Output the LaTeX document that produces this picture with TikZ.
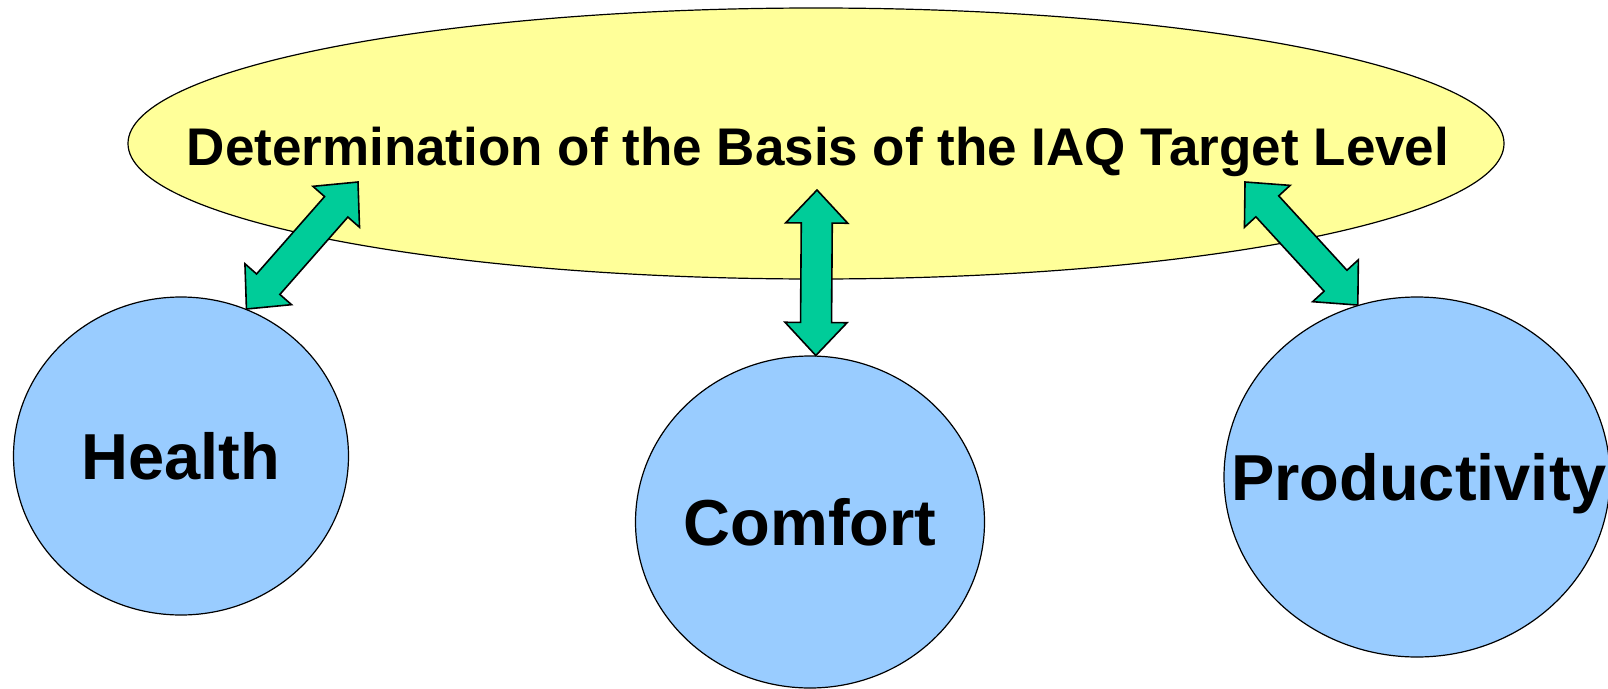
\documentclass[tikz,border=0pt]{standalone}
\usepackage{fontspec}
\setmainfont{Liberation Sans}
\usetikzlibrary{shapes, calc}

\definecolor{basisyellow}{HTML}{FFFF99}
\definecolor{factorblue}{HTML}{99CCFF}
\definecolor{linkgreen}{HTML}{00CC99}
\tikzset{
  factor/.style={draw,ellipse,fill=factorblue,line width=1.2pt,inner sep=0pt},
  bigtext/.style={font=\bfseries\fontsize{65}{78}\selectfont,text height=46.5pt,text depth=0pt,inner sep=0pt},
  link/.style={draw,fill=linkgreen,line width=1.6pt,line join=miter}
}
% double headed block arrow between two points
\newcommand{\blockarrow}[2]{%
  \path[link] (#1) -- ($(#1)!33pt!(#2)!31pt!90:(#2)$) -- ($(#1)!33pt!(#2)!15.5pt!90:(#2)$)
    -- ($(#2)!33pt!(#1)!15.5pt!-90:(#1)$) -- ($(#2)!33pt!(#1)!31pt!-90:(#1)$) -- (#2)
    -- ($(#2)!33pt!(#1)!31pt!90:(#1)$) -- ($(#2)!33pt!(#1)!15.5pt!90:(#1)$)
    -- ($(#1)!33pt!(#2)!15.5pt!-90:(#2)$) -- ($(#1)!33pt!(#2)!31pt!-90:(#2)$) -- cycle;}

\begin{document}
\begin{tikzpicture}[x=1pt,y=-1pt]
\useasboundingbox (0,0) rectangle (1608,688);
\node (basis) [draw,ellipse,fill=basisyellow,line width=1.2pt,minimum width=1376pt,minimum height=271pt] at (816,143.5) {};
\node (basistext) [font=\bfseries\fontsize{53}{64}\selectfont,text height=38pt,text depth=0pt,inner sep=0pt] at (818,146.5)
    {Determination of the Basis of the IAQ Target Level};
\node (health) [factor,minimum width=335pt,minimum height=318pt] at (181,456) {};
\node (comfort) [factor,minimum width=349pt,minimum height=332pt] at (810,522) {};
\node (prod) [factor,minimum width=386pt,minimum height=360pt] at (1417,477) {};
\node (healthtext) [bigtext] at (health) {Health};
\node (comforttext) [bigtext] at (comfort) {Comfort};
\node (prodtext) [bigtext] at ([xshift=2pt]prod.center) {Productivity};
\coordinate (healthend) at (358,182);
\coordinate (comfortend) at (817,190);
\coordinate (prodend) at (1245,182);
\blockarrow{health.66}{healthend}
\blockarrow{comfort.88}{comfortend}
\blockarrow{prod.109}{prodend}
\end{tikzpicture}
\end{document}
